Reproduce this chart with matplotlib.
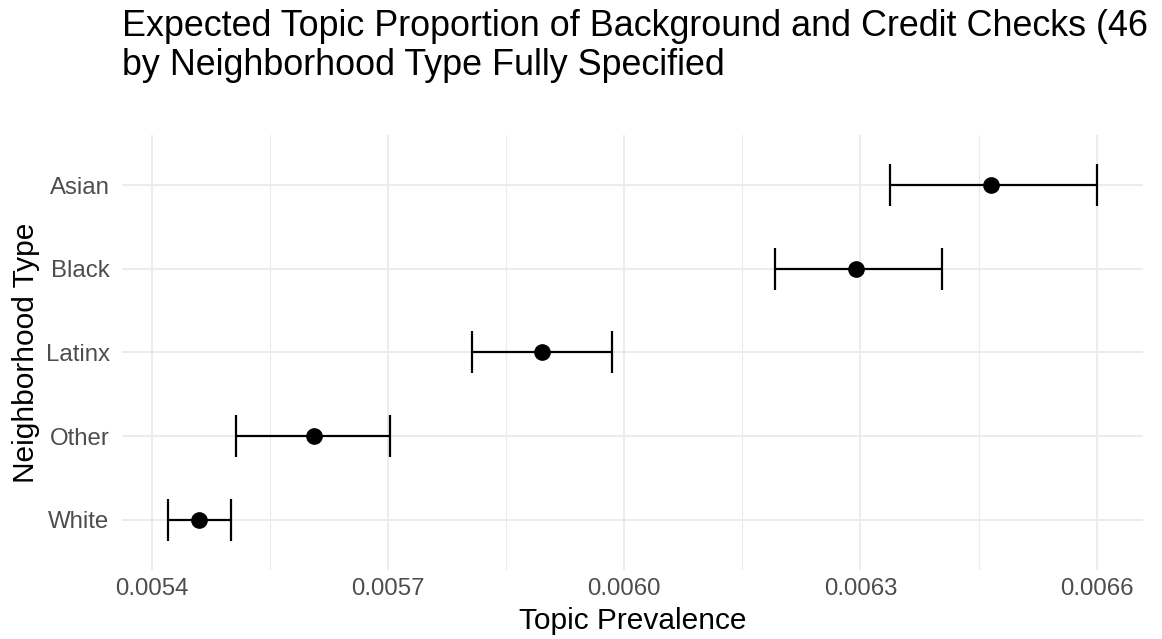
import matplotlib
matplotlib.use("Agg")
import matplotlib.pyplot as plt
from matplotlib.ticker import FixedLocator

plt.rcParams['font.family'] = ['Liberation Sans', 'DejaVu Sans']

categories = ["Asian", "Black", "Latinx", "Other", "White"]
estimates = [0.006466, 0.006294, 0.005895, 0.005606, 0.005460]
lower = [0.006337, 0.006191, 0.005806, 0.005507, 0.005421]
upper = [0.006600, 0.006403, 0.005985, 0.005702, 0.005500]
xticks = [0.0054, 0.0057, 0.0060, 0.0063, 0.0066]
xtick_labels = ["0.0054", "0.0057", "0.0060", "0.0063", "0.0066"]
minor_xticks = [0.00525, 0.00555, 0.00585, 0.00615, 0.00645, 0.00675]

fig = plt.figure(figsize=(11.62, 6.39), dpi=100)
ax = fig.add_axes([122/1162, 1 - 570/639, (1143-122)/1162, (570-135)/639])

n = len(categories)
ypos = [n - i for i in range(n)]  # Asian at top

xerr_low = [e - l for e, l in zip(estimates, lower)]
xerr_high = [u - e for e, u in zip(estimates, upper)]
ax.errorbar(estimates, ypos, xerr=[xerr_low, xerr_high], fmt='none',
            ecolor='black', elinewidth=1.6, capsize=15, capthick=1.6, zorder=3)
ax.plot(estimates, ypos, 'o', color='black', markersize=11, zorder=4)

lo = min(lower); hi = max(upper)
span = hi - lo
ax.set_xlim(lo - 0.05*span, hi + 0.05*span)
ax.set_ylim(0.4, n + 0.6)

ax.xaxis.set_major_locator(FixedLocator(xticks))
ax.set_xticklabels(xtick_labels)
ax.xaxis.set_minor_locator(FixedLocator(minor_xticks))
ax.set_yticks(ypos)
ax.set_yticklabels(categories)

for s in ax.spines.values():
    s.set_visible(False)
ax.tick_params(axis='both', which='both', length=0, labelsize=17.3, labelcolor='#4D4D4D')
ax.tick_params(axis='x', pad=6)
ax.tick_params(axis='y', pad=9)
ax.grid(which='major', color='#EBEBEB', linewidth=1.3, zorder=0)
ax.grid(which='minor', axis='x', color='#EBEBEB', linewidth=0.8, zorder=0)
ax.set_axisbelow(True)

ax.set_xlabel("Topic Prevalence", fontsize=21.5, color='black', labelpad=5)
ax.set_ylabel("Neighborhood Type", fontsize=21.5, color='black', labelpad=4)

fig.text(122/1162, 1 - 75/639,
         "Expected Topic Proportion of Background and Credit Checks (46\nby Neighborhood Type Fully Specified",
         fontsize=25.8, ha='left', va='baseline', color='black', linespacing=1.13)

fig.savefig("out.png", dpi=100)
